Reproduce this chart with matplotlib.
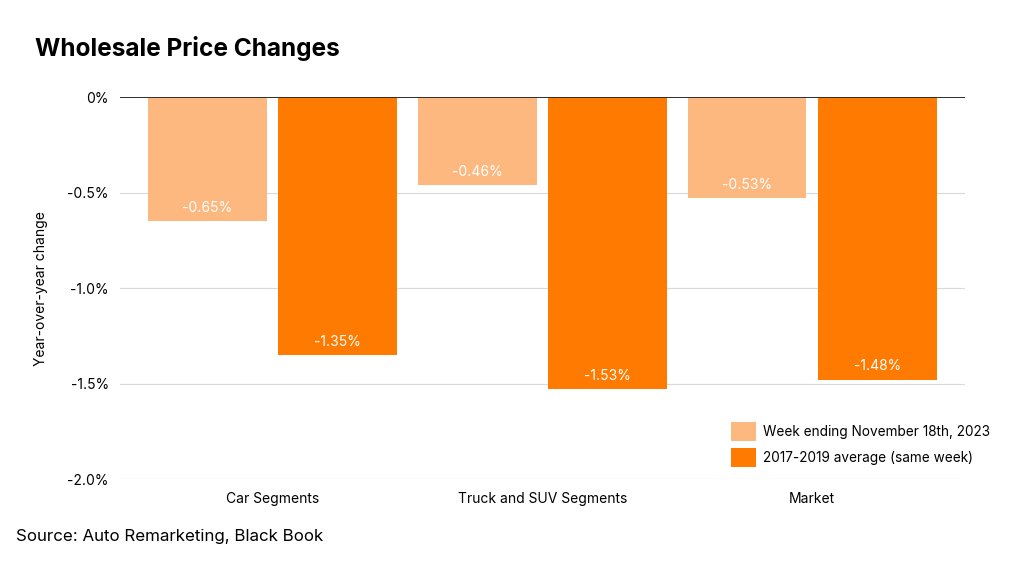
import numpy as np
import matplotlib.pyplot as plt

categories = ['Car Segments', 'Truck and SUV Segments', 'Market']
week_2023 = [-0.65, -0.46, -0.53]
avg_2017_2019 = [-1.35, -1.53, -1.48]
series_names = ['Week ending November 18th, 2023', '2017-2019 average (same week)']
y_ticks = [0, -0.5, -1.0, -1.5, -2.0]
y_tick_labels = ['0%', '-0.5%', '-1.0%', '-1.5%', '-2.0%']

LIGHT = '#FDB87F'
DARK = '#FF7A00'

plt.rcParams['font.family'] = ['Inter', 'DejaVu Sans']

fig = plt.figure(figsize=(10.24, 5.65), dpi=100)
ax = fig.add_axes([0.117, 0.152, 0.825, 0.676])

x = np.arange(len(categories))
width = 0.44
offset = 0.241

bars1 = ax.bar(x - offset, week_2023, width, color=LIGHT, label=series_names[0], zorder=2)
bars2 = ax.bar(x + offset, avg_2017_2019, width, color=DARK, label=series_names[1], zorder=2)

# value labels sit just above the bottom of each bar
for bars, vals in [(bars1, week_2023), (bars2, avg_2017_2019)]:
    for b, v in zip(bars, vals):
        ax.text(b.get_x() + b.get_width() / 2, v + 0.07, f'{v:.2f}%',
                ha='center', va='center', color='white', fontsize=10)

ax.set_xlim(-0.565, 2.565)
ax.set_ylim(-2.0, 0)
ax.set_yticks(y_ticks)
ax.set_yticklabels(y_tick_labels, fontsize=10)
ax.set_xticks(x)
ax.set_xticklabels(categories, fontsize=10)
ax.tick_params(length=0, pad=8)
ax.tick_params(axis='x', pad=9)

ax.grid(axis='y', color='#d9d9d9', linewidth=0.8, zorder=0)
ax.axhline(0, color='#222222', linewidth=1.3, zorder=3)
for s in ax.spines.values():
    s.set_visible(False)

ax.set_ylabel('Year-over-year change', fontsize=10, labelpad=14)

leg = ax.legend(loc='lower right', bbox_to_anchor=(1.045, 0.0), frameon=False,
                fontsize=9.8, handlelength=1.8, handleheight=1.8, handletextpad=0.55,
                labelspacing=0.5)

fig.text(0.034, 0.915, 'Wholesale Price Changes', fontsize=17.6, fontweight='bold', va='center')
fig.text(0.016, 0.051, 'Source: Auto Remarketing, Black Book', fontsize=12.2, va='center')

fig.savefig('out.png', dpi=100, facecolor='white')
